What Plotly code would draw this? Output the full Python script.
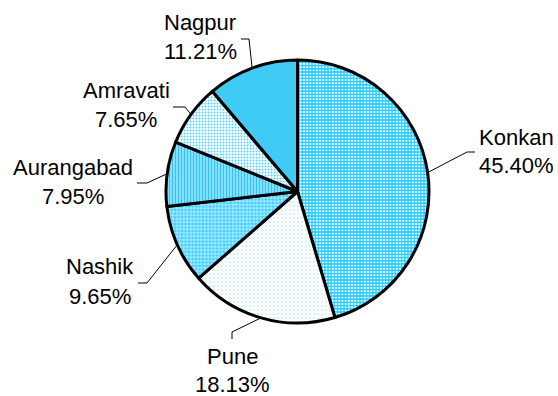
import math
import plotly.graph_objects as go

# Regional share (percent), listed clockwise from 12 o'clock
regions = ["Konkan", "Pune", "Nashik", "Aurangabad", "Amravati", "Nagpur"]
shares = [45.40, 18.13, 9.65, 7.95, 7.65, 11.21]

W, H = 558, 396
CX, CY, R = 297.5, 191.5, 131.5  # pie centre and radius in pixels

# Fill patterns per region
patterns = {
    "Konkan":     dict(shape="+", fgcolor="#00C4FF", bgcolor="#FFFFFF", size=3.2, solidity=0.55),
    "Pune":       dict(shape=".", fgcolor="#9FE4FF", bgcolor="#FFFFFF", size=4, solidity=0.12),
    "Nashik":     dict(shape="+", fgcolor="#FFFFFF", bgcolor="#3FCEFF", size=3.5, solidity=0.3),
    "Aurangabad": dict(shape="|", fgcolor="#2CC6FF", bgcolor="#A6E8FF", size=3, solidity=0.5),
    "Amravati":   dict(shape=".", fgcolor="#55D2FF", bgcolor="#FFFFFF", size=3, solidity=0.35),
    "Nagpur":     dict(shape="", fgcolor="#3FCBF5", bgcolor="#3FCBF5", size=3, solidity=0.5),
}
solid = {"Nagpur": "#3FCBF5"}

# Label placement: centre of text block (px), leader hook start (px), hook direction
label_layout = {
    "Konkan":     dict(cx=516, y1=137, y2=165, hook=(475, 152), dir=(-8, 0)),
    "Pune":       dict(cx=232, y1=356, y2=384, hook=(232, 339), dir=(0, -7)),
    "Nashik":     dict(cx=100, y1=266, y2=296, hook=(138, 283), dir=(9, 0)),
    "Aurangabad": dict(cx=73,  y1=167, y2=196, hook=(137, 183), dir=(10, 0)),
    "Amravati":   dict(cx=126, y1=91,  y2=120, hook=(173, 107), dir=(12, 0)),
    "Nagpur":     dict(cx=200, y1=23,  y2=51,  hook=(241, 39),  dir=(8, 0)),
}

def px(x):
    return x / W

def py(y):
    return 1 - y / H

fig = go.Figure(go.Pie(
    labels=regions,
    values=shares,
    sort=False,
    direction="clockwise",
    rotation=0,
    textinfo="none",
    hoverinfo="label+percent",
    marker=dict(
        colors=[solid.get(r, patterns[r]["bgcolor"]) for r in regions],
        line=dict(color="#000000", width=3),
        pattern=dict(
            shape=[patterns[r]["shape"] for r in regions],
            fgcolor=[patterns[r]["fgcolor"] for r in regions],
            bgcolor=[patterns[r]["bgcolor"] for r in regions],
            size=[patterns[r]["size"] for r in regions],
            solidity=[patterns[r]["solidity"] for r in regions],
            fillmode="replace",
        ),
    ),
    domain=dict(x=[px(CX - R), px(CX + R)], y=[py(CY + R), py(CY - R)]),
    showlegend=False,
))

annotations = []
shapes = []
total = sum(shares)
cum = 0.0
for name, val in zip(regions, shares):
    mid = (cum + val / 2) / total * 2 * math.pi  # clockwise from top
    cum += val
    ex = CX + R * math.sin(mid)
    ey = CY - R * math.cos(mid)
    lay = label_layout[name]
    hx, hy = lay["hook"]
    bx, by = hx + lay["dir"][0], hy + lay["dir"][1]
    shapes.append(dict(
        type="path", xref="paper", yref="paper",
        path=f"M {px(hx)} {py(hy)} L {px(bx)} {py(by)} L {px(ex)} {py(ey)}",
        line=dict(color="#000000", width=1), layer="below",
    ))
    pct = 100 * val / total
    for text, y in ((name, lay["y1"]), (f"{pct:.2f}%", lay["y2"])):
        annotations.append(dict(
            x=px(lay["cx"]), y=py(y), xref="paper", yref="paper",
            text=text, showarrow=False, xanchor="center", yanchor="middle",
            font=dict(family="Liberation Sans, Arial, sans-serif", size=22, color="#000000"),
        ))

fig.update_layout(
    width=W, height=H,
    margin=dict(l=0, r=0, t=0, b=0),
    paper_bgcolor="#FFFFFF",
    plot_bgcolor="#FFFFFF",
    annotations=annotations,
    shapes=shapes,
)

fig.write_html("out.html")
